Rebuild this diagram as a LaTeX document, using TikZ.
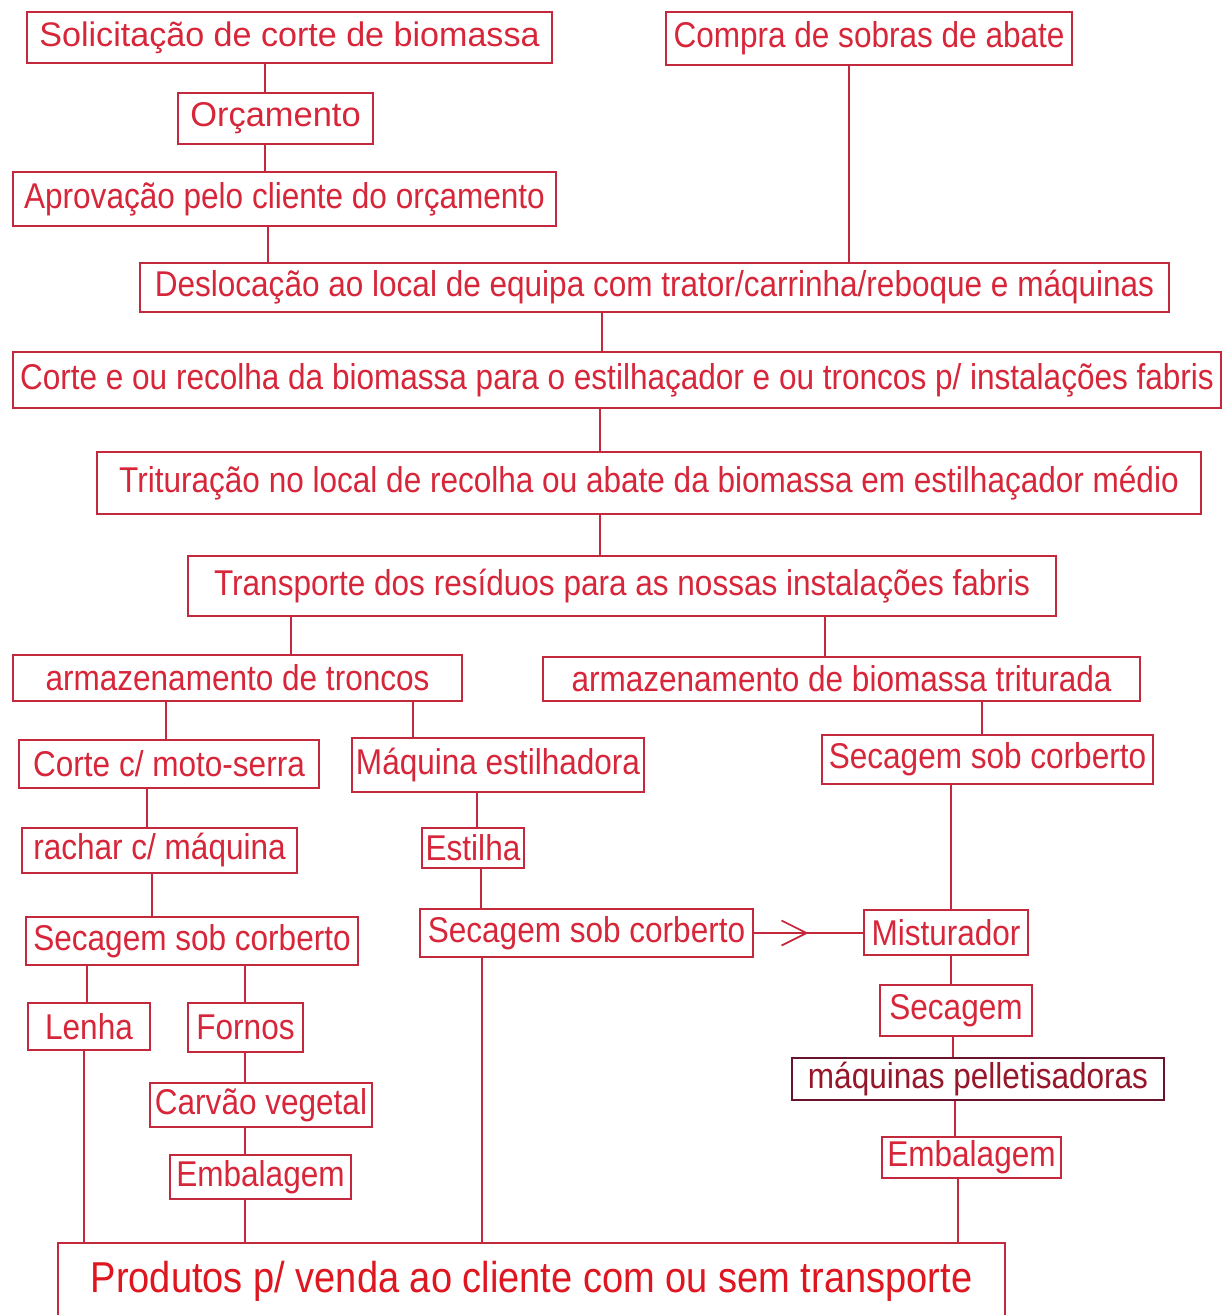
\documentclass[tikz,border=0pt]{standalone}
\usepackage{fontspec}
\setmainfont{Liberation Sans}[FakeStretch=0.88]
\newfontfamily\largafont{Liberation Sans}
\usetikzlibrary{arrows.meta,decorations.markings}

\definecolor{txtred}{RGB}{215,38,58}
\definecolor{boxred}{RGB}{195,40,60}
\definecolor{pelbox}{RGB}{105,20,45}
\definecolor{peltxt}{RGB}{150,22,42}
\definecolor{prored}{RGB}{222,22,32}

\tikzset{
  caixa/.style={rectangle, draw=boxred, text=txtred, line width=1pt, inner sep=0pt,
    font=\fontsize{20.4}{24}\selectfont},
  liga/.style={draw=boxred, line width=1pt},
}

\begin{document}
\begin{tikzpicture}[x=0.02cm, y=-0.02cm]
\useasboundingbox (0,0) rectangle (1223,1315);
\fill[white] (0,0) rectangle (1223,1315);

% pedido e compra
\node (sol)[caixa, minimum width=10.5cm, minimum height=1.02cm, font=\largafont\fontsize{19.4}{24}\selectfont] at (289.5, 37.5) {Solicitação de corte de biomassa};
\node (orc)[caixa, minimum width=3.9cm, minimum height=1.02cm, font=\largafont\fontsize{19.6}{24}\selectfont] at (275.5, 118.5) {Orçamento};
\node (apr)[caixa, minimum width=10.86cm, minimum height=1.08cm] at (284.5, 199) {Aprovação pelo cliente do orçamento};
\node (com)[caixa, minimum width=8.12cm, minimum height=1.06cm] at (869, 38.5) {Compra de sobras de abate};

% recolha
\node (des)[caixa, minimum width=20.58cm, minimum height=0.98cm] at (654.5, 287.5) {Deslocação ao local de equipa com trator/carrinha/reboque e máquinas};
\node (cor)[caixa, minimum width=24.16cm, minimum height=1.12cm] at (617, 380) {Corte e ou recolha da biomassa para o estilhaçador e ou troncos p/ instalações fabris};
\node (tri)[caixa, minimum width=22.08cm, minimum height=1.24cm] at (649, 483) {Trituração no local de recolha ou abate da biomassa em estilhaçador médio};
\node (tra)[caixa, minimum width=17.36cm, minimum height=1.2cm] at (622, 586) {Transporte dos resíduos para as nossas instalações fabris};

% armazenamento
\node (art)[caixa, minimum width=8.98cm, minimum height=0.92cm] at (237.5, 678) {armazenamento de troncos};
\node (arb)[caixa, minimum width=11.94cm, minimum height=0.88cm] at (841.5, 679) {armazenamento de biomassa triturada};

% troncos
\node (mot)[caixa, minimum width=6cm, minimum height=0.96cm] at (169, 764) {Corte c/ moto-serra};
\node (rac)[caixa, minimum width=5.5cm, minimum height=0.9cm] at (159.5, 850.5) {rachar c/ máquina};
\node (sl)[caixa, minimum width=6.64cm, minimum height=0.96cm] at (192, 941) {Secagem sob corberto};
\node (len)[caixa, minimum width=2.44cm, minimum height=0.94cm] at (89, 1026.5) {Lenha};
\node (for)[caixa, minimum width=2.3cm, minimum height=0.98cm] at (245.5, 1027.5) {Fornos};
\node (car)[caixa, minimum width=4.44cm, minimum height=0.88cm] at (261, 1105) {Carvão vegetal};
\node (eml)[caixa, minimum width=3.62cm, minimum height=0.88cm] at (260.5, 1177) {Embalagem};

% estilha
\node (mqe)[caixa, minimum width=5.84cm, minimum height=1.08cm] at (498, 765) {Máquina estilhadora};
\node (est)[caixa, minimum width=2.04cm, minimum height=0.8cm] at (473, 848) {Estilha};
\node (sm)[caixa, minimum width=6.66cm, minimum height=0.96cm] at (586.5, 933) {Secagem sob corberto};

% biomassa triturada
\node (sr)[caixa, minimum width=6.62cm, minimum height=0.98cm] at (987.5, 759.5) {Secagem sob corberto};
\node (mis)[caixa, minimum width=3.28cm, minimum height=0.9cm] at (946, 932.5) {Misturador};
\node (sec)[caixa, minimum width=3.04cm, minimum height=1.02cm] at (956, 1010.5) {Secagem};
\node (pel)[caixa, draw=pelbox, text=peltxt, minimum width=7.44cm, minimum height=0.84cm] at (978, 1079) {máquinas pelletisadoras};
\node (emr)[caixa, minimum width=3.58cm, minimum height=0.82cm] at (971.5, 1157.5) {Embalagem};

% venda
\node (pro)[caixa, minimum width=18.94cm, minimum height=1.52cm, text=prored, font=\fontsize{24.6}{28}\selectfont] at (531.5, 1281) {Produtos p/ venda ao cliente com ou sem transporte\hspace{0.3cm}};

\draw[liga] (sol.south -| 265,0) -- (orc.north -| 265,0);
\draw[liga] (orc.south -| 265,0) -- (apr.north -| 265,0);
\draw[liga] (apr.south -| 268,0) -- (des.north -| 268,0);
\draw[liga] (com.south -| 849,0) -- (des.north -| 849,0);
\draw[liga] (des.south -| 602,0) -- (cor.north -| 602,0);
\draw[liga] (cor.south -| 600,0) -- (tri.north -| 600,0);
\draw[liga] (tri.south -| 600,0) -- (tra.north -| 600,0);
\draw[liga] (tra.south -| 291,0) -- (art.north -| 291,0);
\draw[liga] (tra.south -| 825,0) -- (arb.north -| 825,0);

\draw[liga] (art.south -| 166,0) -- (mot.north -| 166,0);
\draw[liga] (art.south -| 413,0) -- (mqe.north -| 413,0);
\draw[liga] (mot.south -| 147,0) -- (rac.north -| 147,0);
\draw[liga] (rac.south -| 152,0) -- (sl.north -| 152,0);
\draw[liga] (sl.south -| 87,0) -- (len.north -| 87,0);
\draw[liga] (sl.south -| 245,0) -- (for.north -| 245,0);
\draw[liga] (for.south -| 245,0) -- (car.north -| 245,0);
\draw[liga] (car.south -| 245,0) -- (eml.north -| 245,0);
\draw[liga] (eml.south -| 245,0) -- (pro.north -| 245,0);
\draw[liga] (len.south -| 84,0) -- (pro.north -| 84,0);

\draw[liga] (mqe.south -| 477,0) -- (est.north -| 477,0);
\draw[liga] (est.south -| 481,0) -- (sm.north -| 481,0);
\draw[liga] (sm.south -| 482,0) -- (pro.north -| 482,0);
\draw[liga, postaction={decorate}, decoration={markings,
    mark=at position 0.5 with {\arrow{Straight Barb[length=0.5cm, width=0.5cm]}}}]
  (sm.east) -- (sm.east -| mis.west);

\draw[liga] (arb.south -| 982,0) -- (sr.north -| 982,0);
\draw[liga] (sr.south -| 951,0) -- (mis.north -| 951,0);
\draw[liga] (mis.south -| 951,0) -- (sec.north -| 951,0);
\draw[liga] (sec.south -| 953,0) -- (pel.north -| 953,0);
\draw[liga] (pel.south -| 955,0) -- (emr.north -| 955,0);
\draw[liga] (emr.south -| 958,0) -- (pro.north -| 958,0);
\end{tikzpicture}
\end{document}
